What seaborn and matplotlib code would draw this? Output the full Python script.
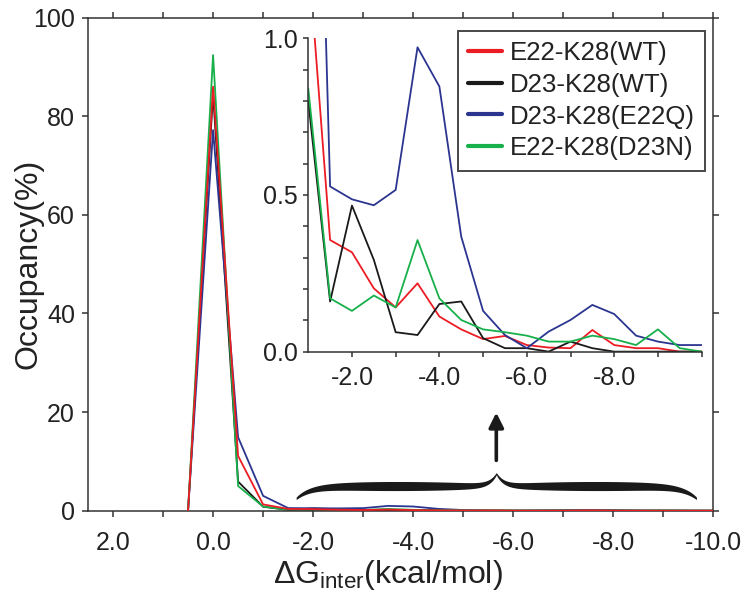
import numpy as np
import pandas as pd
import matplotlib
matplotlib.use("Agg")
import matplotlib.pyplot as plt
import seaborn as sns

# ---------------- data ----------------
dG = [0.5, 0.0, -0.5, -1.0, -1.5, -2.0, -2.5, -3.0, -3.5, -4.0, -4.5, -5.0,
      -5.5, -6.0, -6.5, -7.0, -7.5, -8.0, -8.5, -9.0, -9.5, -10.0]
e22_k28_wt = [0, 86.0, 11.1, 1.27, 0.356, 0.317, 0.202, 0.141, 0.218, 0.112, 0.071,
              0.040, 0.050, 0.021, 0.013, 0.011, 0.069, 0.021, 0.011, 0.011, 0.0, 0.0]
d23_k28_wt = [0, 84.5, 5.9, 0.80, 0.160, 0.466, 0.293, 0.062, 0.053, 0.152, 0.160,
              0.043, 0.011, 0.011, 0.0, 0.032, 0.011, 0.0, 0.0, 0.0, 0.0, 0.0]
d23_k28_e22q = [0, 77.2, 14.9, 3.0, 0.527, 0.486, 0.467, 0.516, 0.971, 0.846, 0.367,
                0.130, 0.053, 0.011, 0.064, 0.101, 0.149, 0.120, 0.051, 0.032, 0.021, 0.021]
e22_k28_d23n = [0, 92.4, 5.0, 0.84, 0.170, 0.130, 0.179, 0.141, 0.356, 0.170, 0.101,
                0.071, 0.062, 0.051, 0.032, 0.032, 0.051, 0.040, 0.021, 0.071, 0.011, 0.0]
series_names = ["E22-K28(WT)", "D23-K28(WT)", "D23-K28(E22Q)", "E22-K28(D23N)"]
series_vals = [e22_k28_wt, d23_k28_wt, d23_k28_e22q, e22_k28_d23n]
colors = ["#ec1c24", "#1a1a1a", "#2b3590", "#17b04a"]
main_xticks = [2.0, 0.0, -2.0, -4.0, -6.0, -8.0, -10.0]
main_yticks = [0, 20, 40, 60, 80, 100]
inset_xticks = [-2.0, -4.0, -6.0, -8.0]
inset_yticks = [0.0, 0.5, 1.0]

df = pd.concat([pd.DataFrame({"dG": dG, "occ": v, "pair": n})
                for n, v in zip(series_names, series_vals)], ignore_index=True)
palette = dict(zip(series_names, colors))

# ---------------- style ----------------
sns.set_theme(style="ticks")
plt.rcParams["font.family"] = ["Liberation Sans", "DejaVu Sans"]
plt.rcParams["mathtext.fontset"] = "custom"
plt.rcParams["mathtext.rm"] = "Liberation Sans"
plt.rcParams["mathtext.it"] = "Liberation Sans:italic"
plt.rcParams["axes.unicode_minus"] = False
txt = "#222222"
spine_c = "#333333"

fig = plt.figure(figsize=(7.5, 5.97), dpi=100)
ax = fig.add_axes([0.1173, 0.1446, 0.834, 0.8258])

sns.lineplot(data=df, x="dG", y="occ", hue="pair", palette=palette, ax=ax,
             legend=False, linewidth=1.3, sort=True)
ax.lines[0].set_zorder(2.6)   # red drawn above black at the peak
ax.set_xlim(2.5, -10)
ax.set_ylim(0, 100)
ax.set_xticks(main_xticks)
ax.set_xticklabels([f"{v:.1f}" for v in main_xticks])
ax.set_xticks(np.arange(1, -10, -2), minor=True)
ax.set_yticks(main_yticks)
ax.set_yticklabels([str(v) for v in main_yticks])
ax.tick_params(axis="both", which="both", direction="out", length=4.3, width=1.1,
               color=spine_c, labelcolor=txt, labelsize=18, top=True, right=True)
ax.tick_params(axis="x", which="both", pad=10)
ax.tick_params(axis="y", which="both", pad=5)
for s in ax.spines.values():
    s.set_visible(True)
    s.set_color(spine_c)
    s.set_linewidth(1.1)
ax.set_xlabel("ΔG$_{\\mathrm{inter}}$(kcal/mol)", fontsize=23, color=txt)
ax.set_ylabel("Occupancy(%)", fontsize=23, color=txt)
ax.xaxis.set_label_coords(0.48, -0.095)
ax.yaxis.set_label_coords(-0.071, 0.5)

# brace (annotation)
def draw_brace(a, x0, x1, y_end, y_arm, y_tip, thick):
    xm = 0.5 * (x0 + x1)
    u = np.linspace(0, 1, 300)
    yc = y_arm - (y_arm - y_end) * np.exp(-u / 0.07) + (y_tip - y_arm) * np.exp(-(1 - u) / 0.035)
    h = 0.5 * thick * np.sin(np.pi * u) ** 0.6 + 0.22
    xl = x0 + (xm - x0) * u
    xr = x1 + (xm - x1) * u
    up_x = np.concatenate([xl, xr[::-1]])
    up_y = np.concatenate([yc + h, (yc + h)[::-1]])
    lo_x = np.concatenate([xr, xl[::-1]])
    lo_y = np.concatenate([yc - h, (yc - h)[::-1]])
    a.fill(np.concatenate([up_x, lo_x]), np.concatenate([up_y, lo_y]),
           color="#1a1a1a", lw=0, zorder=5)

draw_brace(ax, -1.67, -9.67, 2.4, 4.9, 7.4, 1.4)
ax.annotate("", xy=(-5.66, 19.9), xytext=(-5.66, 10.2),
            arrowprops=dict(arrowstyle="-|>", lw=2.6, color="#1a1a1a",
                            mutation_scale=22, shrinkA=0, shrinkB=0))

# ---------------- inset ----------------
axi = fig.add_axes([0.411, 0.411, 0.5245, 0.525])
axi.set_facecolor("none")
dfi = df[df["dG"] <= -1.0]
sns.lineplot(data=dfi, x="dG", y="occ", hue="pair", palette=palette, ax=axi,
             linewidth=1.3, sort=True)
axi.set_xlim(-1, -10)
axi.set_ylim(0, 1.0)
axi.set_xticks(inset_xticks)
axi.set_xticklabels([f"{v:.1f}" for v in inset_xticks])
axi.set_xticks([-3, -5, -7, -9, -10], minor=True)
axi.set_yticks(inset_yticks)
axi.set_yticklabels([f"{v:.1f}" for v in inset_yticks])
axi.set_yticks(np.arange(0.1, 1.0, 0.1), minor=True)
axi.tick_params(axis="both", which="both", direction="out", length=3.6, width=1.1,
                color=spine_c, labelcolor=txt, labelsize=18, pad=4)
axi.tick_params(axis="x", which="both", pad=6.5)
for k in ["top", "right"]:
    axi.spines[k].set_visible(False)
for k in ["left", "bottom"]:
    axi.spines[k].set_color(spine_c)
    axi.spines[k].set_linewidth(1.1)
axi.set_xlabel("")
axi.set_ylabel("")

sns.move_legend(axi, loc="upper right", bbox_to_anchor=(0.94, 0.9486),
                bbox_transform=fig.transFigure, title=None, frameon=True,
                fontsize=18.6, handlelength=1.3, handletextpad=0.3,
                labelspacing=0.3, borderpad=0.4, borderaxespad=0,
                fancybox=False, edgecolor="#1a1a1a")
leg = axi.get_legend()
leg.get_frame().set_linewidth(1.4)
for line in leg.get_lines():
    line.set_linewidth(3.0)
for t in leg.get_texts():
    t.set_color(txt)

fig.savefig("out.png", dpi=100)
